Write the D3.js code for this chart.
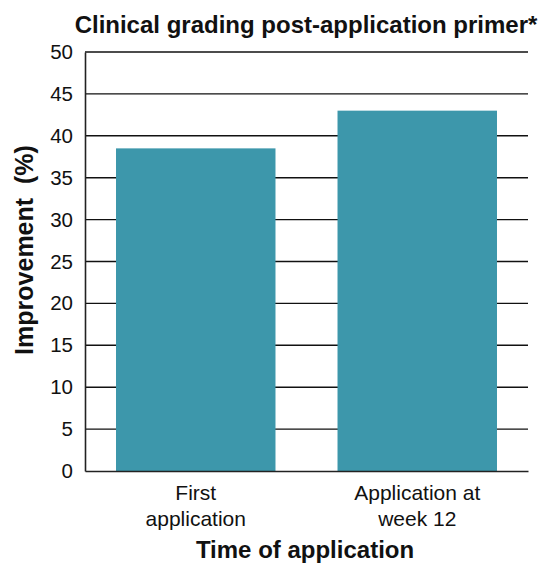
<!DOCTYPE html>
<html>
<head>
<meta charset="utf-8">
<script src="https://cdn.jsdelivr.net/npm/d3@7"></script>
<style>
  body { margin: 0; background: #fff; }
  text { font-family: "Liberation Sans", Arial, sans-serif; fill: #111; }
</style>
</head>
<body>
<script>
// data
var categorias = [["First", "application"], ["Application at", "week 12"]]
var valores = [38.5, 43.0]
var ticksY = [0, 5, 10, 15, 20, 25, 30, 35, 40, 45, 50]

var width = 547, height = 564
var margin = {top: 52, right: 19, bottom: 93, left: 85}

var svg = d3.select("body").append("svg")
  .attr("width", width)
  .attr("height", height)

var escalaX = d3.scaleBand()
  .domain(d3.range(categorias.length))
  .range([margin.left, width - margin.right])
  .paddingInner(0.28)
  .paddingOuter(0.14)

var escalaY = d3.scaleLinear()
  .domain([0, 50])
  .range([height - margin.bottom, margin.top])

// gridlines
svg.append("g")
  .selectAll("line")
  .data(ticksY.filter(d => d > 0))
  .enter().append("line")
  .attr("x1", margin.left)
  .attr("x2", width - margin.right)
  .attr("y1", d => escalaY(d))
  .attr("y2", d => escalaY(d))
  .attr("stroke", "#111")
  .attr("stroke-width", 1.4)

// bars
svg.append("g")
  .selectAll("rect")
  .data(valores)
  .enter().append("rect")
  .attr("x", (d, i) => escalaX(i))
  .attr("width", escalaX.bandwidth())
  .attr("y", d => escalaY(d))
  .attr("height", d => escalaY(0) - escalaY(d))
  .attr("fill", "#3d97ab")

// y axis
var ejeY = d3.axisLeft(escalaY).tickValues(ticksY).tickSize(0).tickPadding(12)
var gY = svg.append("g")
  .attr("transform", "translate(" + margin.left + ",0)")
  .call(ejeY)
gY.select(".domain").attr("stroke", "#222").attr("stroke-width", 1.6)
gY.selectAll("text").style("font-size", "20.5px").attr("fill", "#111")

// x axis
var gX = svg.append("g")
  .attr("transform", "translate(0," + escalaY(0) + ")")
  .call(d3.axisBottom(escalaX).tickSize(0).tickFormat(""))
gX.select(".domain").attr("stroke", "#222").attr("stroke-width", 1.6)

svg.append("g").selectAll("text")
  .data(categorias)
  .enter().append("text")
  .attr("x", (d, i) => escalaX(i) + escalaX.bandwidth() / 2)
  .attr("y", 500)
  .attr("text-anchor", "middle")
  .style("font-size", "21px")
  .each(function (d) {
    var t = d3.select(this)
    d.forEach((linea, k) => {
      t.append("tspan")
        .attr("x", t.attr("x"))
        .attr("dy", k == 0 ? 0 : 26)
        .text(linea)
    })
  })

// titles
svg.append("text")
  .attr("x", 306)
  .attr("y", 33)
  .attr("text-anchor", "middle")
  .style("font-size", "24px")
  .style("font-weight", "bold")
  .text("Clinical grading post-application primer*")

svg.append("text")
  .attr("transform", "translate(33,250) rotate(-90)")
  .attr("text-anchor", "middle")
  .style("font-size", "25px")
  .style("font-weight", "bold")
  .attr("xml:space", "preserve")
  .text("Improvement  (%)")

svg.append("text")
  .attr("x", 305)
  .attr("y", 558)
  .attr("text-anchor", "middle")
  .style("font-size", "24px")
  .style("font-weight", "bold")
  .text("Time of application")
</script>
</body>
</html>
